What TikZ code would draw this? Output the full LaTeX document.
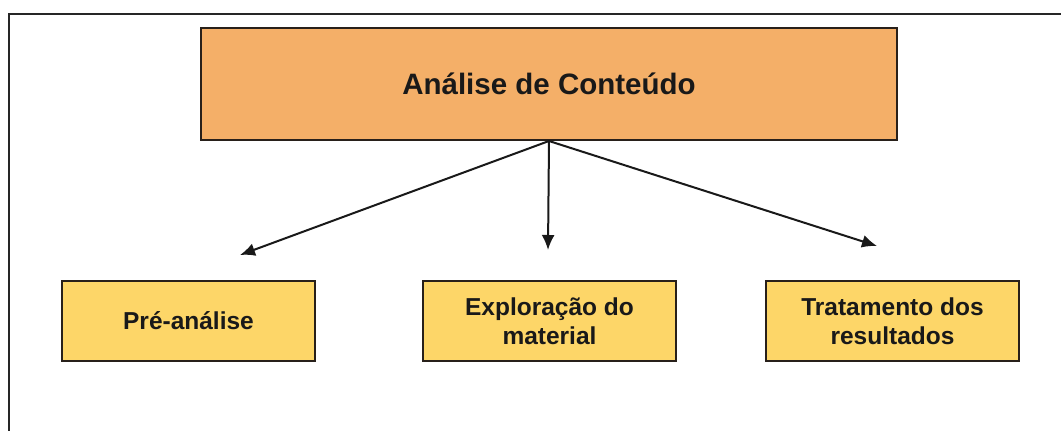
\documentclass[tikz,border=0pt]{standalone}
\usepackage{fontspec}
\setmainfont{Liberation Sans}
\usetikzlibrary{arrows.meta}
\definecolor{laranja}{RGB}{244,175,104}
\definecolor{amarelo}{RGB}{253,214,104}
\definecolor{borda}{RGB}{40,32,26}

\begin{document}
\begin{tikzpicture}[x=1pt,y=-1pt]
	\tikzset{topo/.style={draw=borda,line width=2pt,fill=laranja,minimum width=696pt,minimum height=112pt,font=\fontsize{29.5}{33}\bfseries\selectfont,text=black!90}}
	\tikzset{etapa/.style={draw=borda,line width=2pt,fill=amarelo,minimum width=253pt,minimum height=80pt,align=center,font=\fontsize{24.5}{29.5}\bfseries\selectfont,text=black!90}}
	\tikzset{seta/.style={-{Latex[length=15pt,width=13pt]},line width=2pt,draw=black!90}}

	\useasboundingbox (0,0) rectangle (1061,431);
	\draw[line width=1.2pt,black!85] (9,431) -- (9,14) -- (1061,14);

	\node[topo] (raiz) at (549,84) {Análise de Conteúdo};
	\node[etapa] (pre) at (188.5,321) {Pré-análise};
	\node[etapa] (expl) at (549.5,321) {Exploração do\\material};
	\node[etapa] (trat) at (892.5,321) {Tratamento dos\\resultados};

	\coordinate (p1) at (240,255);
	\coordinate (p2) at (548,250);
	\coordinate (p3) at (877,246);
	\draw[seta] (raiz.south) -- (p1);
	\draw[seta] (raiz.south) -- (p2);
	\draw[seta] (raiz.south) -- (p3);
\end{tikzpicture}
\end{document}
